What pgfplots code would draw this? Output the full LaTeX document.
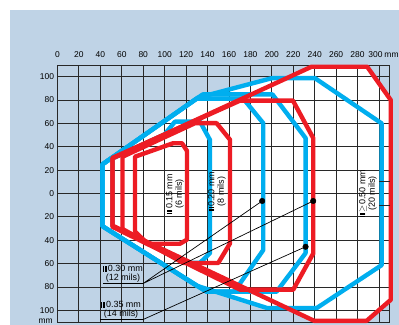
\documentclass[border=0pt]{standalone}
\usepackage{pgfplots}
\pgfplotsset{compat=1.18}
\usepackage{fontspec}
\setmainfont{Liberation Sans}
\definecolor{bgblue}{RGB}{191,211,230}
\definecolor{cred}{RGB}{237,28,36}
\definecolor{cblue}{RGB}{0,174,239}
\definecolor{gridc}{RGB}{40,40,40}
\newcommand{\bc}{\mbox{\rule{1.1bp}{5.6bp}\hspace{0.5bp}\rule{1.1bp}{5.6bp}\hspace{0.5bp}\rule{1.1bp}{5.6bp}}\hspace{0.6bp}}
\pgfplotsset{base/.style={at={(0bp,0bp)}, anchor=south west,
  scale only axis, width=332.2bp, height=257bp,
  xmin=0, xmax=310, ymin=-110, ymax=110, clip=false}}
\begin{document}
\begin{tikzpicture}
\fill[white] (-57.5bp,-3bp) rectangle (341.5bp,322bp);
\fill[bgblue] (-47.5bp,-3bp) rectangle (341.5bp,312bp);
\begin{axis}[base, hide axis]
% white interior
\addplot[fill=white, draw=none] coordinates {(51.3,30) (237,108.5) (289,108.5) (311,80) (311,-91) (288.5,-109) (239.5,-109) (51.3,-27.5)} -- cycle;
\addplot[fill=white, draw=none] coordinates {(42,25) (131,82) (200,98.7) (240.3,98.7) (302.5,60) (302.5,-61.3) (242,-98) (195.5,-98) (130,-79) (42,-28)} -- cycle;
\end{axis}
\begin{axis}[base,
  axis line style={gridc, line width=0.9bp},
  grid=major, major grid style={gridc, line width=0.9bp},
  major tick length=0pt,
  xtick={0,20,40,60,80,100,120,140,160,180,200,220,240,260,280,300},
  xticklabels={0,20,40,60,80,100,120,140,160,180,200,220,240,260,280,{\makebox[0pt]{\hspace*{-7bp}300}\rlap{\hspace*{5.5bp}mm}}},
  xticklabel pos=upper,
  xticklabel style={yshift=3.5bp},
  ytick={-100,-80,-60,-40,-20,0,20,40,60,80,100},
  yticklabels={100,80,60,40,20,0,20,40,60,80,100},
  tick label style={font=\fontsize{8.5}{10}\selectfont, text=black},
]
% blue envelopes
\addplot[cblue, line width=4.4bp, line join=round] coordinates {(42,25) (131,82) (200,98.7) (240.3,98.7) (302.5,60) (302.5,-61.3) (242,-98) (195.5,-98) (130,-79) (42,-28)} -- cycle;
\addplot[cblue, line width=4.4bp, line join=round] coordinates {(42,25) (135.5,84.8) (200.6,84.8) (231.5,47.5) (231.5,-51) (204.5,-84) (139,-84) (42,-28)} -- cycle;
\addplot[cblue, line width=4.4bp, line join=round] coordinates {(42,25) (129.8,81.2) (173.4,81.2) (192,60.2) (192,-48.4) (165,-84) (139,-84) (42,-28)} -- cycle;
\addplot[cblue, line width=4.4bp, line join=round] coordinates {(51.3,30) (100,50.6) (109.6,61.5) (133,61.5) (142.3,45.8) (142.3,-51) (133,-59.3) (120,-59.3) (110,-54) (51.3,-28)} -- cycle;
% red envelopes
\addplot[cred, line width=4.4bp, line join=round] coordinates {(51.3,30) (237,108.5) (289,108.5) (311,80) (311,-91) (288.5,-109) (239.5,-109) (51.3,-27.5)} -- cycle;
\addplot[cred, line width=4.4bp, line join=round] coordinates {(51.3,30.5) (170.3,79.5) (219.7,79.5) (238.7,47.3) (238.7,-51.2) (220,-82.3) (170.3,-82.3) (51.3,-28.5)} -- cycle;
\addplot[cred, line width=4.4bp, line join=round] coordinates {(60.7,31.5) (128.3,60.2) (148.5,60.2) (161,46) (161,-42.7) (150,-59.5) (117.4,-59.5) (60.7,-30.4)} -- cycle;
\addplot[cred, line width=4.4bp, line join=round] coordinates {(72.3,31.5) (107.8,43) (116.2,43) (120.8,36.5) (120.8,-39.5) (114.3,-43) (84,-43) (72.3,-32.5)} -- cycle;
% small ticks at right edge
\addplot[gridc, line width=0.9bp] coordinates {(300,10) (310,10)};
\addplot[gridc, line width=0.9bp] coordinates {(300,-10) (310,-10)};
% leader lines
\addplot[black, line width=0.7bp] coordinates {(191,-6.4) (79.8,-77.1) (238.6,-6.4)};
\addplot[black, line width=0.7bp] coordinates {(42.5,-77.1) (79.8,-77.1)};
\addplot[black, line width=0.7bp] coordinates {(39.7,-107.9) (79.8,-107.9) (231.5,-45.6)};
\addplot[only marks, mark=*, mark size=2.8bp, black] coordinates {(191,-6.4) (238.6,-6.4) (231.5,-45.6)};
% labels
\node[rotate=90, align=center, font=\fontsize{9}{9.5}\selectfont] at (axis cs:109.6,-0.4) {\bc0.15 mm\\(6 mils)};
\node[rotate=90, align=center, font=\fontsize{9}{9.5}\selectfont] at (axis cs:148.8,1.7) {\bc0.20 mm\\(8 mils)};
\node[rotate=90, align=center, font=\fontsize{9}{9.5}\selectfont] at (axis cs:289.7,0) {\bc$\geq$0.50 mm\\(20 mils)};
\node[anchor=south, inner sep=0pt, align=center, font=\fontsize{9}{9}\selectfont] at (axis cs:61.1,-76.3) {\bc0.30 mm\\(12 mils)};
\node[anchor=south, inner sep=0pt, align=center, font=\fontsize{9}{9}\selectfont] at (axis cs:59.3,-107.1) {\bc0.35 mm\\(14 mils)};
\node[anchor=base east, inner sep=0pt, font=\fontsize{8.5}{10}\selectfont] at (axis cs:-4.2,-111) {mm};
\end{axis}
\end{tikzpicture}
\end{document}
